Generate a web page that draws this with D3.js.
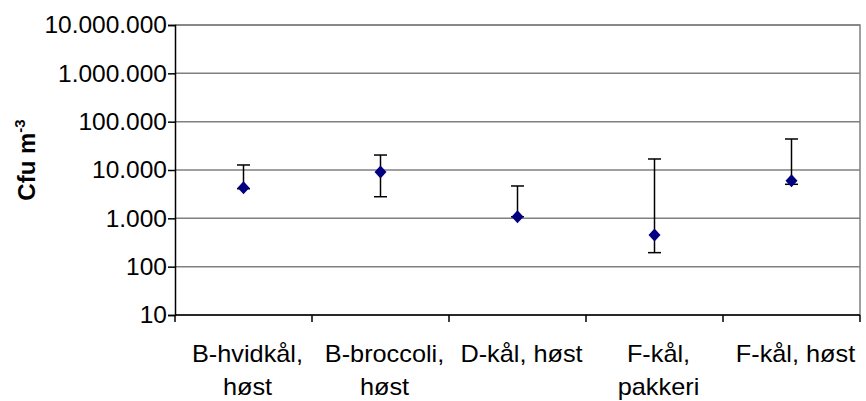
<!DOCTYPE html>
<html>
<head>
<meta charset="utf-8">
<script src="https://cdn.jsdelivr.net/npm/d3@7/dist/d3.min.js"></script>
<style>
  html, body { margin: 0; padding: 0; background: #fff; }
  svg { display: block; font-family: "Liberation Sans", Arial, sans-serif; }
</style>
</head>
<body>
<svg id="chart" width="866" height="401"></svg>
<script>
// Airborne counts per sampling site (cfu per m3), with min/max ranges
const categories = ["B-hvidkål,\nhøst", "B-broccoli,\nhøst", "D-kål, høst", "F-kål,\npakkeri", "F-kål, høst"];
const values = [4300, 9100, 1080, 452, 6010];
const lowerValues = [4100, 2800, 1080, 195, 5060];
const upperValues = [12700, 20400, 4670, 16900, 43800];
const yTickValues = [10, 100, 1000, 10000, 100000, 1000000, 10000000];
const yTickLabels = ["10", "100", "1.000", "10.000", "100.000", "1.000.000", "10.000.000"];

const svg = d3.select("#chart");
const plotLeft = 175, plotRight = 860, plotTop = 25, plotBottom = 315;

const x = d3.scaleBand().domain(categories).range([plotLeft, plotRight]);
const y = d3.scaleLog().domain([10, 10000000]).range([plotBottom, plotTop]);

// horizontal gridlines
svg.append("g").selectAll("line").data(yTickValues).join("line")
  .attr("x1", plotLeft).attr("x2", plotRight)
  .attr("y1", d => y(d)).attr("y2", d => y(d))
  .attr("stroke", "#808080").attr("stroke-width", 1.5);

// plot border (top and right)
svg.append("path")
  .attr("d", `M${plotLeft},${plotTop}H${plotRight}V${plotBottom}`)
  .attr("fill", "none").attr("stroke", "#808080").attr("stroke-width", 1.5);

// y axis
const yAxis = d3.axisLeft(y).tickValues(yTickValues)
  .tickFormat((d, i) => yTickLabels[i]).tickSizeOuter(0).tickSize(7).tickPadding(1);
const gy = svg.append("g").attr("transform", `translate(${plotLeft},0)`).call(yAxis);
gy.select(".domain").attr("stroke", "#000").attr("stroke-width", 1.5);
gy.selectAll(".tick line").attr("stroke", "#000").attr("stroke-width", 1.5);
gy.selectAll(".tick text").attr("font-size", 24.5).attr("fill", "#000")
  .attr("font-family", "Liberation Sans, Arial, sans-serif");

// x axis with ticks at band boundaries
const gx = svg.append("g").attr("transform", `translate(0,${plotBottom})`);
gx.append("line").attr("x1", plotLeft).attr("x2", plotRight).attr("stroke", "#000").attr("stroke-width", 1.5);
const bounds = categories.map(c => x(c)).concat([plotRight]);
gx.selectAll("line.tk").data(bounds).join("line").attr("class", "tk")
  .attr("x1", d => d).attr("x2", d => d).attr("y1", 0).attr("y2", 7)
  .attr("stroke", "#000").attr("stroke-width", 1.5);
const lbl = gx.selectAll("text").data(categories).join("text")
  .attr("text-anchor", "middle")
  .attr("font-size", 23).attr("fill", "#000")
  .attr("transform", d => `translate(${x(d) + x.bandwidth() / 2 + 4},47) scale(1.1,1)`);
lbl.selectAll("tspan").data(d => d.split("\n")).join("tspan")
  .attr("x", 0).attr("dy", (d, i) => i === 0 ? 0 : 33).text(d => d);

// y axis title
const title = svg.append("text")
  .attr("transform", "translate(35,160) rotate(-90)")
  .attr("text-anchor", "middle").attr("font-size", 24).attr("font-weight", "bold").attr("fill", "#000");
title.append("tspan").text("Cfu m");
title.append("tspan").attr("font-size", 15).attr("dy", -10).text("-3");

// error bars
const cx = d => x(d) + x.bandwidth() / 2;
const eb = svg.append("g");
categories.forEach((c, i) => {
  eb.append("line").attr("x1", cx(c)).attr("x2", cx(c))
    .attr("y1", y(lowerValues[i])).attr("y2", y(upperValues[i]))
    .attr("stroke", "#000").attr("stroke-width", 1.5);
  [lowerValues[i], upperValues[i]].forEach(v => {
    eb.append("line").attr("x1", cx(c) - 6.5).attr("x2", cx(c) + 6.5)
      .attr("y1", y(v)).attr("y2", y(v))
      .attr("stroke", "#000").attr("stroke-width", 1.5);
  });
});

// diamond markers
svg.append("g").selectAll("path").data(categories).join("path")
  .attr("transform", (d, i) => `translate(${cx(d)},${y(values[i])})`)
  .attr("d", "M0,-6.5L6,0L0,6.5L-6,0Z")
  .attr("fill", "#000080");
</script>
</body>
</html>
